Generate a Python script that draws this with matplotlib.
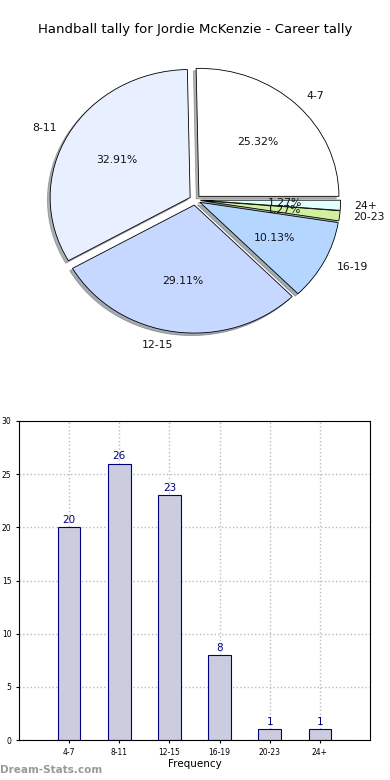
import matplotlib
matplotlib.use("Agg")
import matplotlib.pyplot as plt

categories = ["4-7", "8-11", "12-15", "16-19", "20-23", "24+"]
counts = [20, 26, 23, 8, 1, 1]
pie_colors = ["#ffffff", "#e8f0ff", "#c6d8ff", "#b4d6ff", "#d0f0a0", "#e0ffff"]
title = "Handball tally for Jordie McKenzie - Career tally"

fig = plt.figure(figsize=(3.9, 7.8), dpi=100)

# Pie (elliptical, as in the reference)
w_px, h_px = 2 * 1.25 * 140, 2 * 1.25 * 128
cx, cy = 195, 780 - 200
ax1 = fig.add_axes([(cx - w_px/2)/390, (cy - h_px/2)/780, w_px/390, h_px/780])
ax1.pie(counts, labels=categories, colors=pie_colors, autopct="%1.2f%%",
        explode=[0.04]*len(counts), shadow={"ox": -0.014, "oy": -0.014, "shade": 0.6},
        startangle=0,
        wedgeprops=dict(edgecolor="black", linewidth=0.6),
        textprops=dict(fontsize=7.8, color="#111111"))
ax1.set_aspect("auto")
ax1.set_xlim(-1.25, 1.25)
ax1.set_ylim(-1.25, 1.25)
fig.text(0.5, 1 - 30/780, title, ha="center", va="center", fontsize=9.5)

# Bar
ax2 = fig.add_axes([19/390, 40/780, 351/390, 319/780])
x = list(range(len(categories)))
ax2.bar(x, counts, width=0.45, color="#ccccdf", edgecolor="#000080", linewidth=0.8, zorder=2)
for xi, c in zip(x, counts):
    ax2.text(xi, c + 0.2, str(c), ha="center", va="bottom", fontsize=7.5, color="#000080")
ax2.set_xlim(-1, 6)
ax2.set_ylim(0, 30)
ax2.set_xticks(x)
ax2.set_xticklabels(categories, fontsize=5.5)
ax2.set_yticks(range(0, 31, 5))
ax2.tick_params(axis="y", labelsize=5.5, length=2)
ax2.tick_params(axis="x", length=2)
ax2.grid(True, linestyle=":", color="#bbbbbb", linewidth=1, zorder=0)
ax2.set_axisbelow(True)
ax2.set_xlabel("Frequency", fontsize=7.5, labelpad=2)
ax2.set_ylabel("Stat Count Tally", fontsize=7.5, labelpad=4)

fig.text(0.0, 1 - 770/780, "Dream-Stats.com", ha="left", va="center", fontsize=7.5, color="#999999", fontweight="bold")

fig.savefig("out.png", dpi=100)
